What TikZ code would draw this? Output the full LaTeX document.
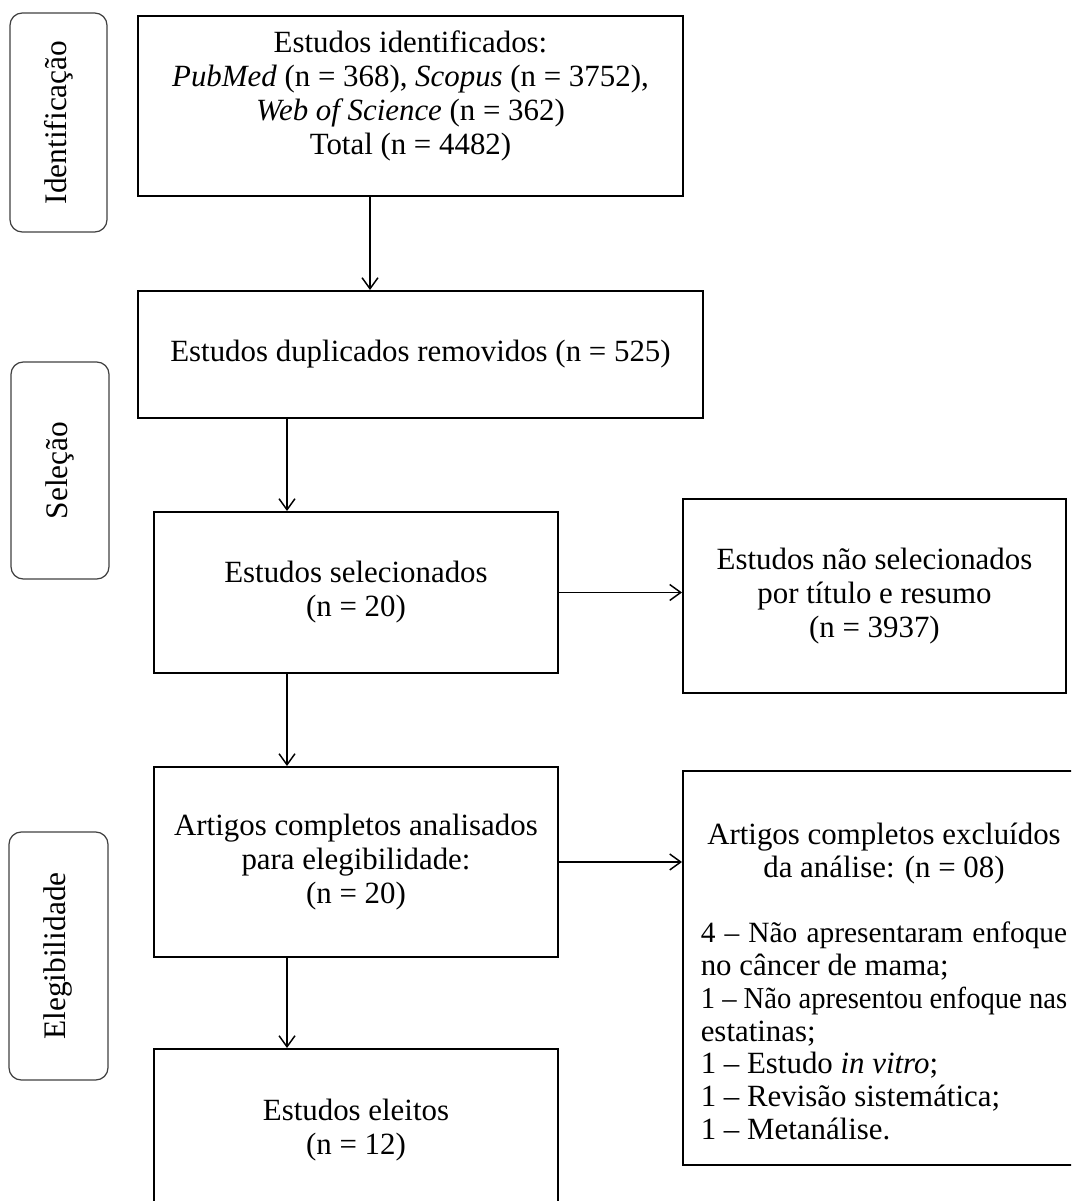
\documentclass[tikz,border=0pt]{standalone}
\usepackage{fontspec}
\usepackage{graphicx}
\setmainfont{Liberation Serif}
\usetikzlibrary{arrows.meta}

\newdimen\px
\px=0.408pt
\newlength\exclw
\setlength\exclw{149.5pt}

\tikzset{
  stage/.style={draw, line width=0.8pt, anchor=north west, align=center,
    inner sep=0pt, font=\fontsize{12.6}{13.9}\selectfont},
  phase/.style={draw=black!75, line width=0.5pt, rounded corners=5pt,
    rotate=90, inner sep=0pt, font=\fontsize{12.8}{13.9}\selectfont},
  arr/.style={-{Straight Barb[length=4.5pt,width=6.5pt]}, line width=0.6pt}
}

\begin{document}
\begin{tikzpicture}[x=0.408pt, y=-0.408pt]
    \clip (0,0) rectangle (1071,1201);

    % phases on the left
    \node[phase, minimum width=219*\px, minimum height=97*\px] (pident) at (58.5,122.5) {Identificação};
    \node[phase, minimum width=217*\px, minimum height=98*\px] (psel) at (60,470.5) {Seleção};
    \node[phase, minimum width=248*\px, minimum height=99*\px] (pelig) at (58.5,956) {Elegibilidade};

    % flow boxes
    \node[stage, minimum width=545*\px, minimum height=180*\px] (found) at (137,15)
      {Estudos identificados:\\
       \textit{PubMed} (n = 368), \textit{Scopus} (n = 3752),\\
       \textit{Web of Science} (n = 362)\\
       Total (n = 4482)\rule[-11pt]{0pt}{11pt}};
    \node[stage, minimum width=565*\px, minimum height=127*\px] (dupl) at (137,290)
      {Estudos duplicados removidos (n = 525)};
    \node[stage, minimum width=404*\px, minimum height=161*\px] (screen) at (153,511)
      {Estudos selecionados\\ (n = 20)};
    \node[stage, minimum width=383*\px, minimum height=194*\px] (notsel) at (682,498)
      {Estudos não selecionados\\ por título e resumo\\ (n = 3937)};
    \node[stage, minimum width=404*\px, minimum height=190*\px] (fulltext) at (153,766)
      {Artigos completos analisados\\ para elegibilidade:\\ (n = 20)};
    \node[stage, minimum width=402*\px, minimum height=394*\px, align=left,
      font=\fontsize{12.6}{13.4}\selectfont] (excl) at (682,770)
      {\makebox[\exclw]{\rule{0pt}{20pt}Artigos completos excluídos}\\
       \makebox[\exclw]{da análise: (n = 08)}\\[13pt]
       \makebox[\exclw][s]{\fontsize{12}{13.4}\selectfont 4 – Não apresentaram enfoque}\\
       no câncer de mama;\\
       \resizebox{\exclw}{\height}{\fontsize{12.4}{13.4}\selectfont 1 – Não apresentou enfoque nas}\\
       estatinas;\\
       1 – Estudo \textit{in vitro};\\
       1 – Revisão sistemática;\\
       1 – Metanálise.};
    \node[stage, minimum width=404*\px, minimum height=162*\px] (incl) at (153,1048)
      {Estudos eleitos\\ (n = 12)};

    % connectors
    \coordinate (xa) at (370,0);
    \coordinate (xb) at (287,0);
    \draw[arr] (xa |- found.south) -- (xa |- dupl.north);
    \draw[arr] (xb |- dupl.south) -- (xb |- screen.north);
    \draw[arr] (screen.east) -- (notsel.west |- screen.east);
    \draw[arr] (xb |- screen.south) -- (xb |- fulltext.north);
    \draw[arr] (fulltext.east) -- (excl.west |- fulltext.east);
    \draw[arr] (xb |- fulltext.south) -- (xb |- incl.north);
\end{tikzpicture}
\end{document}
